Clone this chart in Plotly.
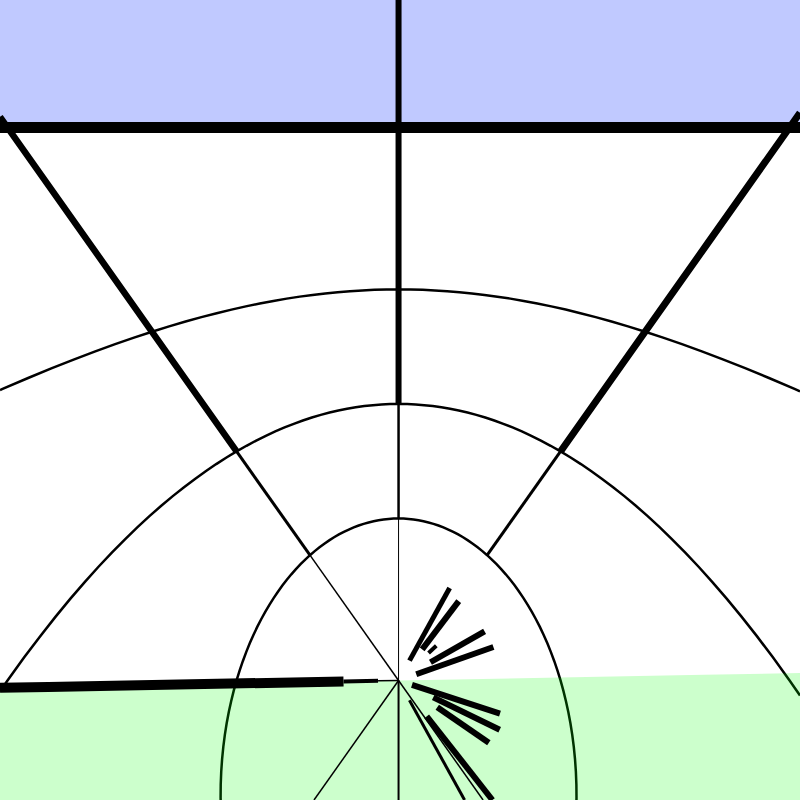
import plotly.graph_objects as go

# Region outlines (lon/lat vertices, clockwise = interior on the right)
north_ring = [[-90, 0], [-90, 89], [90, 89], [90, 0], [0, 0], [-90, 0]]
back_ring = [[-90.75, 0], [-90.75, -90], [89.25, 0], [135, 0], [180, 0], [-135, 0], [-90.75, 0]]
region_ids = ["north", "back"]
# translucent tints over the white globe -> rgb(192,201,255) and rgb(204,255,204)
region_colors = ["rgba(3,39,255,0.25)", "rgba(0,255,0,0.2)"]

# Meridians, drawn in latitude bands: band edges and stroke width per band
band_edges = [-90, -67.5, -45, 40]
meridian_lon = [0, -45, 45]
meridian_band_width = [[1, 2.5, 6], [1.5, 3, 6.5], [0, 3, 7]]
back_meridian_lon = [180, 135, -135]
back_meridian_width = [2, 1.5, 1.5]
edge_lon = -90.75
edge_bands = [-90, -87, -82, 0]
edge_band_width = [1.5, 4, 10]
equator_lon = [-90, -45, 0, 45, 90]
equator_lat = [0, 0, 0, 0, 0]

# Squeezed label strokes radiating from the pole (lon, lat start, lat end)
stroke_lon = [38, 47, 68, 76, 103, 109, 116, 132, 142, 57]
stroke_lat0 = [-87.3, -85.0, -84.8, -87.3, -88.0, -84.8, -84.0, -84.8, -87.5, -84.5]
stroke_lat1 = [-75.7, -76.2, -75.4, -75.1, -75.9, -75.9, -77.0, -73.7, -75.0, -83.0]
stroke_width = [5, 6, 6, 6, 6, 6, 6, 6, 3, 4]

geojson = {"type": "FeatureCollection", "features": [
    {"type": "Feature", "id": rid, "properties": {},
     "geometry": {"type": "Polygon", "coordinates": [ring]}}
    for rid, ring in zip(region_ids, [north_ring, back_ring])]}


def geo_line(lon, lat, width):
    return go.Scattergeo(lon=lon, lat=lat, mode="lines",
                         line=dict(width=width, color="black"), hoverinfo="skip")


fig = go.Figure()
for lo, widths in zip(meridian_lon, meridian_band_width):
    for i, w in enumerate(widths):
        if w > 0:
            fig.add_trace(geo_line([lo, lo], [band_edges[i], band_edges[i + 1]], w))
for lo, w in zip(back_meridian_lon, back_meridian_width):
    fig.add_trace(geo_line([lo, lo], [-90, 0], w))
for i, w in enumerate(edge_band_width):
    fig.add_trace(geo_line([edge_lon, edge_lon], [edge_bands[i], edge_bands[i + 1]], w))
fig.add_trace(geo_line(equator_lon, equator_lat, 11))
for lo, a, b, w in zip(stroke_lon, stroke_lat0, stroke_lat1, stroke_width):
    fig.add_trace(geo_line([lo, lo], [a, b], w))
for rid, col in zip(region_ids, region_colors):
    fig.add_trace(go.Choropleth(geojson=geojson, locations=[rid], z=[1],
                                locationmode="geojson-id",
                                colorscale=[[0, col], [1, col]], showscale=False,
                                marker_line_width=0, hoverinfo="skip"))

fig.update_geos(
    projection_type="gnomonic",
    projection_rotation=dict(lon=0, lat=-45, roll=0),
    center=dict(lon=0.3, lat=-44.18),
    projection_scale=3.92,
    showland=False, showcoastlines=False, showframe=False, showocean=False,
    showlakes=False, showcountries=False, showrivers=False, showsubunits=False,
    bgcolor="white",
    lataxis=dict(showgrid=True, dtick=22.5, tick0=0, range=[-90, 90],
                 gridcolor="black", gridwidth=2.5),
    lonaxis=dict(showgrid=False, range=[-180, 180]),
    domain=dict(x=[0, 1], y=[0, 1]),
)
fig.update_layout(width=800, height=800, margin=dict(l=0, r=0, t=0, b=0),
                  showlegend=False, paper_bgcolor="white")
fig.write_html("out.html", config={"displayModeBar": False},
               post_script="document.body.style.margin='0';")
